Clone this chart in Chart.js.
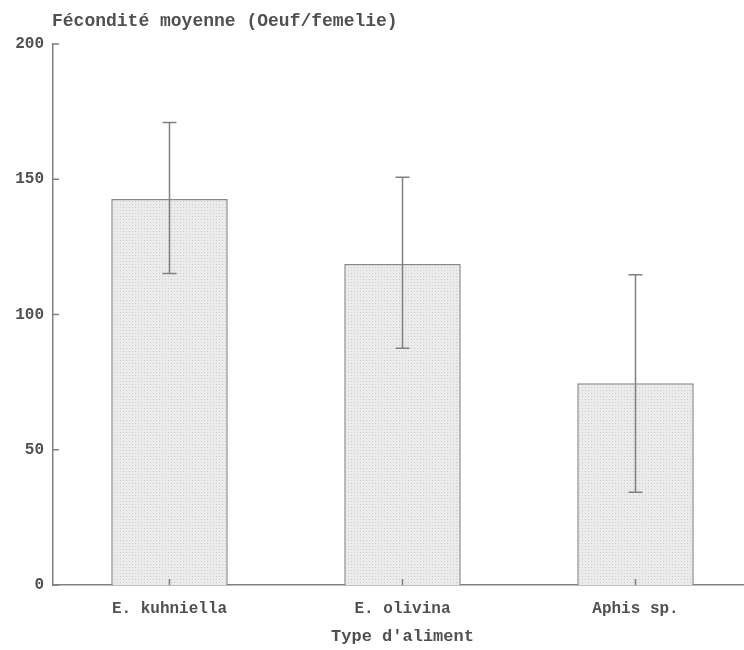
<!DOCTYPE html>
<html>
<head>
<meta charset="utf-8">
<script src="https://cdn.jsdelivr.net/npm/chart.js@4.4.0/dist/chart.umd.min.js"></script>
<style>
  body { margin: 0; width: 744px; height: 650px; overflow: hidden; background: #fff; }
  #wrap { width: 752px; height: 650px; }
</style>
</head>
<body>
<div id="wrap"><canvas id="barChart"></canvas></div>
<script>
const categories = ['E. kuhniella', 'E. olivina', 'Aphis sp.'];
const meanFecundity = [142.7, 118.7, 74.6];
const errorLow = [115.2, 87.5, 34.3];
const errorHigh = [171.0, 150.7, 114.7];
const yTicks = [0, 50, 100, 150, 200];
const yTitle = 'Fécondité moyenne (Oeuf/femelie)';
const xTitle = "Type d'aliment";

const FONT = "'Liberation Mono', 'DejaVu Sans Mono', monospace";
const INK = '#505050';
const LINE = '#808080';

const canvas = document.getElementById('barChart');
const ctx = canvas.getContext('2d');

// stippled grey fill, like the photocopied original
const makeStipple = () => {
  const c = document.createElement('canvas');
  c.width = 6;
  c.height = 6;
  const g = c.getContext('2d');
  g.fillStyle = '#ebebeb';
  g.fillRect(0, 0, 6, 6);
  g.fillStyle = '#c8c8c8';
  g.fillRect(0, 0, 1, 1);
  g.fillRect(3, 3, 1, 1);
  g.fillStyle = '#d6d6d6';
  g.fillRect(3, 0, 1, 1);
  g.fillRect(0, 3, 1, 1);
  return ctx.createPattern(c, 'repeat');
};

// error bars, inward tick marks and the y title
const extras = {
  id: 'extras',
  afterDatasetsDraw(chart) {
    const { ctx, chartArea, scales: { x, y } } = chart;
    ctx.save();
    ctx.strokeStyle = LINE;
    ctx.lineWidth = 1.5;
    ctx.beginPath();
    categories.forEach((c, i) => {
      const px = x.getPixelForValue(i);
      const top = y.getPixelForValue(errorHigh[i]);
      const bot = y.getPixelForValue(errorLow[i]);
      ctx.moveTo(px, top);
      ctx.lineTo(px, bot);
      ctx.moveTo(px - 7, top);
      ctx.lineTo(px + 7, top);
      ctx.moveTo(px - 7, bot);
      ctx.lineTo(px + 7, bot);
      // category tick pointing up into the plot
      ctx.moveTo(px, chartArea.bottom);
      ctx.lineTo(px, chartArea.bottom - 6);
    });
    yTicks.forEach((v) => {
      const py = y.getPixelForValue(v);
      ctx.moveTo(chartArea.left, py);
      ctx.lineTo(chartArea.left + 6, py);
    });
    ctx.stroke();

    ctx.fillStyle = INK;
    ctx.font = 'bold 18px ' + FONT;
    ctx.textBaseline = 'middle';
    ctx.textAlign = 'left';
    ctx.fillText(yTitle, chartArea.left - 1, 21);
    ctx.restore();
  },
};

new Chart(canvas, {
  type: 'bar',
  data: {
    labels: categories,
    datasets: [
      {
        data: meanFecundity,
        backgroundColor: makeStipple(),
        borderColor: '#888888',
        borderWidth: 1.5,
        barPercentage: 0.5,
        categoryPercentage: 1.0,
      },
    ],
  },
  options: {
    responsive: true,
    maintainAspectRatio: false,
    animation: false,
    layout: { padding: { top: 44, right: 0, bottom: 0, left: 0 } },
    plugins: {
      legend: { display: false },
      tooltip: { enabled: false },
    },
    scales: {
      x: {
        grid: { display: false, drawTicks: false },
        border: { color: LINE, width: 1.5 },
        ticks: { color: INK, font: { family: FONT, size: 16, weight: 'bold' }, padding: 14 },
        title: {
          display: true,
          text: xTitle,
          color: INK,
          font: { family: FONT, size: 17, weight: 'bold' },
          padding: { top: 4, bottom: 3 },
        },
        afterFit: (scale) => {
          scale.height = 65;
        },
      },
      y: {
        min: 0,
        max: 200,
        grid: { display: false, drawTicks: false },
        border: { color: LINE, width: 1.5 },
        ticks: { stepSize: 50, color: INK, font: { family: FONT, size: 16, weight: 'bold' }, padding: 9 },
        afterFit: (scale) => {
          scale.width = 53;
        },
      },
    },
  },
  plugins: [extras],
});
</script>
</body>
</html>
